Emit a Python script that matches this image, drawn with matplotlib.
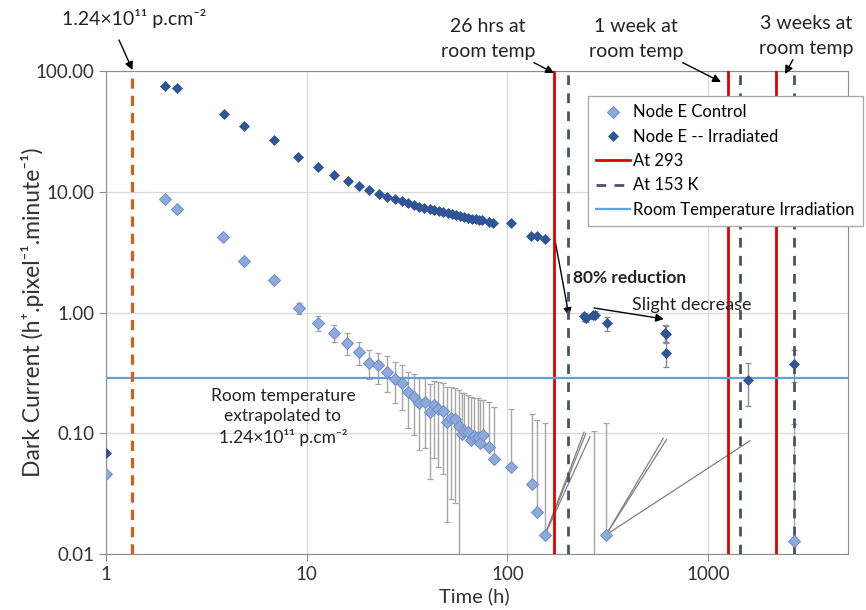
import numpy as np
import matplotlib.pyplot as plt

plt.rcParams['font.family'] = ['Lato', 'DejaVu Sans']

# Node E control (light blue diamonds)
ctrl_t  = [1.0, 1.97, 2.26, 3.84, 4.87, 6.87, 9.12, 11.4, 13.7, 15.9, 18.2, 20.5, 22.7, 25.1,
           27.5, 29.7, 31.9, 34.1, 36.4, 38.9, 41.2, 43.1, 45.3, 47.6, 49.8, 52.2, 54.8, 57.4,
           59.2, 61.0, 63.9, 65.9, 68.4, 71.6, 73.3, 75.6, 81.0, 85.5, 103.8, 133, 140, 154,
           270, 310, 2680]
ctrl_dc = [0.0457, 8.66, 7.16, 4.24, 2.65, 1.86, 1.08, 0.824, 0.676, 0.559, 0.474, 0.384, 0.365, 0.324,
           0.283, 0.262, 0.218, 0.201, 0.177, 0.182, 0.150, 0.170, 0.159, 0.152, 0.125, 0.133, 0.132, 0.115,
           0.098, 0.105, 0.103, 0.088, 0.0955, 0.0926, 0.0835, 0.0967, 0.0765, 0.0608, 0.0522, 0.0378, 0.0221, 0.0144,
           0.005, 0.0144, 0.0128]
ctrl_hi = [0.0457, 8.66, 7.16, 4.24, 2.65, 1.86, 1.19, 0.935, 0.788, 0.673, 0.573, 0.489, 0.465, 0.436,
           0.387, 0.367, 0.324, 0.308, 0.285, 0.285, 0.254, 0.272, 0.267, 0.259, 0.243, 0.240, 0.236, 0.228,
           0.214, 0.214, 0.207, 0.201, 0.195, 0.195, 0.189, 0.189, 0.1825, 0.166, 0.158, 0.1436, 0.1288, 0.121,
           0.105, 0.121, 0.1195]
ctrl_lo = [0.0457, 8.66, 7.16, 4.24, 2.65, 1.86, 0.97, 0.707, 0.566, 0.445, 0.367, 0.280, 0.256, 0.218,
           0.177, 0.156, 0.110, 0.097, 0.073, 0.075, 0.042, 0.062, 0.053, 0.046, 0.0185, 0.0284, 0.0263, 0.001,
           0.098, 0.105, 0.103, 0.088, 0.0955, 0.0926, 0.0835, 0.0967, 0.0765, 0.0608, 0.0522, 0.0378, 0.0221, 0.0144,
           0.001, 0.0144, 0.0128]

# Node E irradiated (dark blue diamonds)
irr_t  = [1.0, 1.96, 2.26, 3.87, 4.89, 6.87, 9.1, 11.4, 13.7, 16.0, 18.3, 20.5, 22.9, 25.1, 27.5, 29.7,
          31.8, 34.2, 36.4, 38.6, 41.0, 43.3, 45.6, 47.9, 50.4, 52.9, 55.3, 58.0, 60.9, 63.5, 66.5, 69.6,
          72.5, 74.8, 81.0, 85.1, 104.2, 130.7, 140, 154.6, 240, 247, 266, 272, 313, 610, 615, 620,
          1586, 2680]
irr_dc = [0.069, 75.6, 72, 44, 34.8, 26.8, 19.4, 15.9, 13.7, 12.3, 11.2, 10.3, 9.64, 9.1, 8.65, 8.33,
          8.07, 7.72, 7.52, 7.33, 7.16, 7.02, 6.89, 6.76, 6.63, 6.5, 6.38, 6.26, 6.14, 6.06, 5.99, 5.91,
          5.86, 5.82, 5.6, 5.5, 5.5, 4.28, 4.28, 4.04, 0.93, 0.90, 0.95, 0.96, 0.818, 0.68, 0.67, 0.459,
          0.276, 0.372]
irr_hi = irr_dc[:40] + [0.985, 0.97, 1.0, 1.02, 0.923, 0.788, 0.78, 0.559, 0.380, 0.489]
irr_lo = irr_dc[:40] + [0.855, 0.84, 0.88, 0.90, 0.707, 0.573, 0.57, 0.354, 0.168, 0.267]

# stray error-bar segments in the original chart
ghost_x0 = [154, 154, 154, 310, 310, 310]
ghost_y0 = [0.0144, 0.0144, 0.0144, 0.0144, 0.0144, 0.0144]
ghost_x1 = [241, 246, 258, 598, 622, 1618]
ghost_y1 = [0.102, 0.0995, 0.0935, 0.0908, 0.089, 0.0867]

fluence_t = 1.343
warm_t = [171, 1261, 2178]      # at 293
cold_t = [200, 1436, 2680]      # at 153 K
room_irr_dc = 0.285

W, H = 866, 610
fig = plt.figure(figsize=(W / 100, H / 100), dpi=100)
ax = fig.add_axes([106 / W, 1 - 554 / H, (848 - 106) / W, (554 - 71) / H])

def fp(x, y):
    return (x / W, 1 - y / H)

ax.set_xscale('log')
ax.set_yscale('log')
ax.set_xlim(1, 4980)
ax.set_ylim(0.01, 100)

ax.grid(True, which='major', color='#d9d9d9', lw=0.9)
ax.set_axisbelow(True)

for a, b, c, d in zip(ghost_x0, ghost_y0, ghost_x1, ghost_y1):
    ax.plot([a, c], [b, d], color='#808080', lw=0.9, zorder=2)

ct = np.array(ctrl_t); cy = np.array(ctrl_dc)
ax.errorbar(ct, cy, yerr=[cy - np.array(ctrl_lo), np.array(ctrl_hi) - cy], fmt='none',
            ecolor='#a6a6a6', elinewidth=1.0, capsize=2.5, capthick=0.9, zorder=3)
it = np.array(irr_t); iy = np.array(irr_dc)
ax.errorbar(it, iy, yerr=[iy - np.array(irr_lo), np.array(irr_hi) - iy], fmt='none',
            ecolor='#8c8c8c', elinewidth=1.0, capsize=2.5, capthick=0.9, zorder=3)

ax.plot(ctrl_t, ctrl_dc, 'D', ms=6.3, color='#8eaadb', mec='#6f8cc4', mew=0.7,
        ls='none', label='Node E Control', zorder=5)
ax.plot(irr_t, irr_dc, 'D', ms=4.6, color='#2f5597', mec='#2f5597', mew=0.5,
        ls='none', label='Node E -- Irradiated', zorder=6)

for i, t in enumerate(warm_t):
    ax.axvline(t, color='#e00000', lw=2, zorder=4, label='At 293' if i == 0 else None)
for i, t in enumerate(cold_t):
    ax.axvline(t, color='#44546a', lw=2, ls=(0, (3.5, 3)), zorder=4,
               label='At 153 K' if i == 0 else None)
ax.axhline(room_irr_dc, color='#5ba3e0', lw=1.6, zorder=4, label='Room Temperature Irradiation')
ax.axvline(fluence_t, color='#d2601a', lw=2.3, ls=(0, (3.2, 2.2)), zorder=4)

for s in ax.spines.values():
    s.set_color('#8c8c8c')
ax.tick_params(which='major', direction='out', length=5, color='#8c8c8c', labelsize=13.5,
               labelcolor='#333333')
ax.tick_params(which='minor', length=0)
ax.set_xticks([1, 10, 100, 1000])
ax.set_xticklabels(['1', '10', '100', '1000'])
ax.set_yticks([0.01, 0.1, 1, 10, 100])
ax.set_yticklabels(['0.01', '0.10', '1.00', '10.00', '100.00'])

ax.set_xlabel('Time (h)', fontsize=14.5, color='#333333')
ax.xaxis.set_label_coords(0.497, -0.068)
ax.set_ylabel('Dark Current (h⁺.pixel⁻¹.minute⁻¹)', fontsize=16.5, color='#333333')
ax.yaxis.set_label_coords(-0.084, 0.5)

leg = ax.legend(loc='upper left', bbox_to_anchor=fp(588, 96), bbox_transform=fig.transFigure,
                fontsize=12, frameon=True, fancybox=False, edgecolor='#a6a6a6', framealpha=1,
                handlelength=2.0, handletextpad=0.2, labelspacing=0.5, borderpad=0.5,
                borderaxespad=0)
leg.get_frame().set_linewidth(0.9)
leg.set_zorder(10)

arrow = dict(arrowstyle='-|>', color='black', lw=1, mutation_scale=12, shrinkA=0, shrinkB=0)
pix = dict(xycoords='figure fraction', textcoords='figure fraction')
txt = dict(fontsize=14, color='#222222', ha='center', va='center', arrowprops=arrow, **pix)

fig.text(*fp(134, 19), '1.24×10¹¹ p.cm⁻²', fontsize=14, ha='center', va='center', color='#222222')
ax.annotate('', xy=fp(132.5, 70), xytext=fp(119, 40), arrowprops=arrow, **pix)
ax.annotate('26 hrs at\nroom temp', xy=fp(554, 73), xytext=fp(488, 39), linespacing=1.55, **txt)
ax.annotate('1 week at\nroom temp', xy=fp(721, 82), xytext=fp(636, 39), linespacing=1.55, **txt)
ax.annotate('3 weeks at\nroom temp', xy=fp(785, 74), xytext=fp(806, 36), linespacing=1.55, **txt)

fig.text(*fp(573, 278), '80% reduction', fontsize=12.5, fontweight='bold', ha='left', va='center',
         color='#222222')
ax.annotate('', xy=fp(569, 316), xytext=fp(555, 240), arrowprops=arrow, **pix)
fig.text(*fp(632, 305), 'Slight decrease', fontsize=13, ha='left', va='center', color='#222222')
ax.annotate('', xy=fp(664, 319), xytext=fp(594, 308), arrowprops=arrow, **pix)

fig.text(*fp(283, 417), 'Room temperature\nextrapolated to\n1.24×10¹¹ p.cm⁻²', fontsize=12.5,
         ha='center', va='center', linespacing=1.35, color='#222222')

fig.savefig('out.png', dpi=100)
